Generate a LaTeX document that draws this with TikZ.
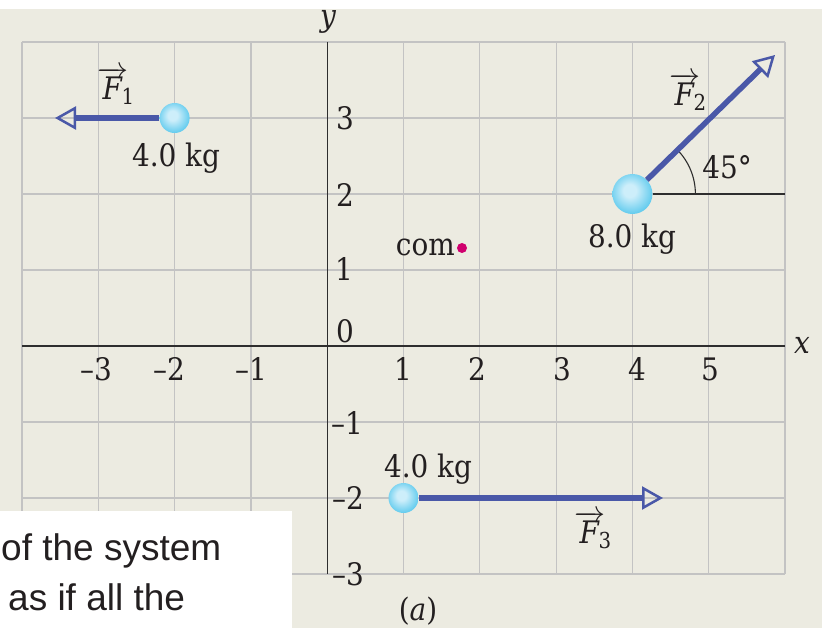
\RequirePackage{fix-cm}
\documentclass[tikz,border=0pt]{standalone}
\usepackage{fontspec}
\setmainfont{DejaVu Serif Condensed}
\usetikzlibrary{arrows.meta}
\newfontfamily\sansfnt{Liberation Sans}
\definecolor{beige}{HTML}{ECEBE1}
\definecolor{gridc}{HTML}{C3C3C3}
\definecolor{axisc}{HTML}{2E2E2E}
\definecolor{forcec}{HTML}{4A58A8}
\definecolor{txt}{HTML}{231F20}
\definecolor{comc}{HTML}{D0006E}
\definecolor{ballhi}{HTML}{CDEEFA}
\definecolor{ballmid}{HTML}{52C6EC}
\definecolor{ballout}{HTML}{28B4E3}
\pgfdeclareradialshading{myball}{\pgfpoint{-4bp}{5bp}}{color(0bp)=(ballhi); color(8bp)=(ballhi); color(30bp)=(ballmid); color(50bp)=(ballout)}
\newcommand{\forcelab}[1]{$\overrightarrow{\mbox{\itshape F\kern2pt}}$\kern-7pt\raisebox{-5pt}{\fontsize{22}{22}\selectfont #1}}
\tikzset{
  lbl/.style={font=\fontsize{31}{38}\selectfont, text=txt, inner sep=0pt},
  gridline/.style={draw=gridc, line width=1.2pt},
  axisline/.style={draw=axisc, line width=1.4pt},
  refline/.style={draw=axisc, line width=1.1pt},
  force/.style={draw=forcec, line width=5.5pt, -{Triangle[open, length=21pt, width=23pt, line width=2.5pt]}},
  mass/.style={circle, shade, shading=myball, inner sep=0pt, minimum size=#1},
  sanstext/.style={font=\sansfnt\fontsize{37}{44}\selectfont, text=txt, inner sep=0pt, anchor=base west}
}
\begin{document}
\begin{tikzpicture}[x=1pt,y=1pt]
\useasboundingbox (0,0) rectangle (822,-628);
\fill[white] (0,0) rectangle (822,-628);
\fill[beige] (0,-9) rectangle (822,-628);
% grid
\foreach \i in {0,...,10}{\pgfmathsetmacro\xx{22+76.3*\i}\draw[gridline] (\xx,-42) -- (\xx,-574);}
\foreach \j in {0,...,7}{\pgfmathsetmacro\yy{-42-76*\j}\draw[gridline] (22,\yy) -- (785,\yy);}
% axes
\coordinate (xa0) at (22,-346);
\coordinate (xa1) at (785,-346);
\coordinate (ya0) at (327.2,-42);
\coordinate (ya1) at (327.2,-574);
\draw[axisline] (xa0) -- (xa1);
\draw[axisline] (ya0) -- (ya1);
\node[lbl] (ylab) at (328,-22) {\itshape y};
\node[lbl] (xlab) at (802,-345) {\itshape x};
% tick labels
\node[lbl] (y3) at (345,-118) {3};
\node[lbl] (y2) at (345,-195) {2};
\node[lbl] (y1) at (344,-269) {1};
\node[lbl] (y0) at (345,-331) {0};
\node[lbl] (ym1) at (347,-423) {--1};
\node[lbl] (ym2) at (348,-498) {--2};
\node[lbl] (ym3) at (348,-574) {--3};
\node[lbl] (xm3) at (96,-369) {--3};
\node[lbl] (xm2) at (169,-369) {--2};
\node[lbl] (xm1) at (251,-369) {--1};
\node[lbl] (x1) at (403,-369) {1};
\node[lbl] (x2) at (477,-369) {2};
\node[lbl] (x3) at (562,-369) {3};
\node[lbl] (x4) at (637,-369) {4};
\node[lbl] (x5) at (710,-369) {5};
% masses
\node[mass=30pt] (m1) at (174.6,-118) {};
\node[mass=40pt] (m2) at (632.4,-194) {};
\node[mass=30pt] (m3) at (403.5,-498) {};
\coordinate (t1) at (55,-118);
\coordinate (t2) at (775,-55);
\coordinate (t3) at (663,-498);
\coordinate (r2) at (785,-194);
% reference line and angle
\draw[refline] (m2) -- (r2);
\draw[refline] (m2.center) ++(0:63) arc[start angle=0, end angle=45, radius=63];
% forces
\draw[force] (m1) -- (t1);
\draw[force] (m2) -- (t2);
\draw[force] (m3) -- (t3);
% labels
\node[lbl] (F1) at (116,-86) {\forcelab{1}};
\node[lbl] (F2) at (688,-92) {\forcelab{2}};
\node[lbl] (F3) at (593,-530) {\forcelab{3}};
\node[lbl] (ang) at (727,-167) {45°};
\node[lbl] (k1) at (176,-158) {4.0 kg};
\node[lbl] (k2) at (632,-239) {8.0 kg};
\node[lbl] (k3) at (428,-469) {4.0 kg};
% centre of mass
\node[circle, fill=comc, minimum size=10pt, inner sep=0pt] (com) at (462,-248) {};
\node[lbl, anchor=east] (comlab) at (455,-247) {com};
\node[lbl] (cap) at (418,-611) {(\textit{a})};
% white box with text
\fill[white] (0,-511) rectangle (292,-628);
\node[sanstext] (s1) at (1,-560) {of the system};
\node[sanstext] (s2) at (8,-610) {as if all the};
\end{tikzpicture}
\end{document}
